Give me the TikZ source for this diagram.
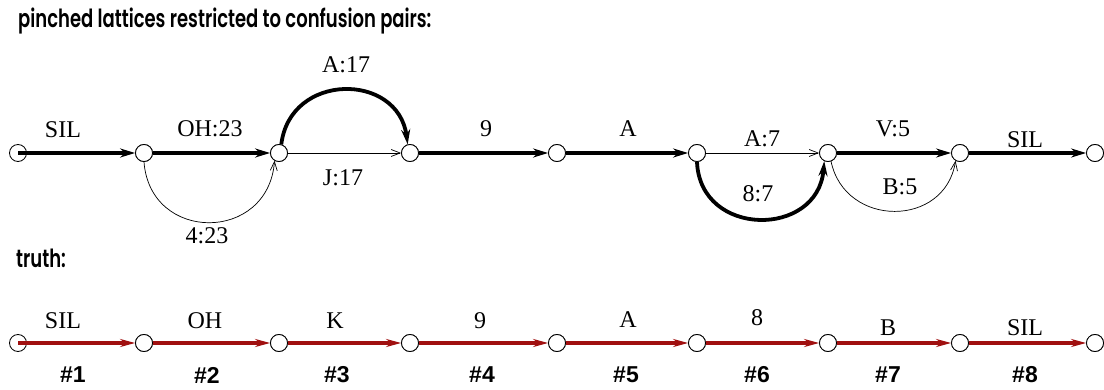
\documentclass[tikz,border=0pt]{standalone}
\usepackage{fontspec}
\setmainfont{Liberation Serif}
\newfontfamily\ptitle{Poppins}[BoldFont={Poppins SemiBold},FakeStretch=0.72]
\newfontfamily\hsans{Liberation Sans}
\usetikzlibrary{arrows.meta}
\definecolor{truthred}{RGB}{160,16,16}
\begin{document}
\begin{tikzpicture}[x=1pt,y=-1pt,
  st/.style={circle,draw,line width=0.8pt,minimum size=17pt,inner sep=0pt},
  stfill/.style={st,fill=white},
  thickedge/.style={line width=3.8pt,-{Stealth[length=15pt,width=9pt,inset=5pt]}},
  thinedge/.style={line width=0.7pt,-{Straight Barb[length=9pt,width=7pt]}},
  rededge/.style={line width=3pt,truthred,-{Stealth[length=15pt,width=8pt,inset=5pt]}},
  lab/.style={font=\fontsize{24}{25}\selectfont,inner sep=0pt},
  hd/.style={font=\ptitle\bfseries\fontsize{25}{27}\selectfont,inner sep=0pt,anchor=base west},
  num/.style={font=\hsans\bfseries\fontsize{23}{25}\selectfont,inner sep=0pt}]
\useasboundingbox (0,0) rectangle (1104,390);
\node[hd] (title) at (18,28) {pinched lattices restricted to confusion pairs:};
\node[hd] (truth) at (16,268) {truth:};
% top lattice
\node[st] (a1) at (18,153) {};
\foreach \n/\x in {2/144,3/279,4/410,5/557,6/697,7/828,8/960,9/1095}
  \node[stfill] (a\n) at (\x,153) {};
\draw[thickedge] (a1.center) -- (a2);
\draw[thickedge] (a2) -- (a3);
\draw[thickedge] (a3.75) .. controls (290,72) and (398,72) .. (a4.105);
\draw[thinedge] (a3) -- (a4);
\draw[thinedge] (a2.270) .. controls (150,243) and (268,243) .. (a3.240);
\draw[thickedge] (a4) -- (a5);
\draw[thickedge] (a5) -- (a6);
\draw[thinedge] (a6) -- (a7);
\draw[thickedge] (a6.270) .. controls (700,238) and (818,238) .. (a7.245);
\draw[thickedge] (a7) -- (a8);
\draw[thinedge] (a7.290) .. controls (845,228) and (945,228) .. (a8.240);
\draw[thickedge] (a8) -- (a9);
\foreach \n in {2,...,9} \node[stfill] at (a\n) {};
\node[lab] (l1) at (63,130) {SIL};
\node[lab] (l2) at (210,129) {OH:23};
\node[lab] (l3) at (346,65) {A:17};
\node[lab] (l4) at (343,178) {J:17};
\node[lab] (l5) at (207,236) {4:23};
\node[lab] (l6) at (486,129) {9};
\node[lab] (l7) at (628,129) {A};
\node[lab] (l8) at (762,139) {A:7};
\node[lab] (l9) at (758,194) {8:7};
\node[lab] (l10) at (893,129) {V:5};
\node[lab] (l11) at (1025,140) {SIL};
\node[lab] (l12) at (900,187) {B:5};
% truth
\node[st] (b1) at (18,343) {};
\foreach \n/\x in {2/144,3/279,4/410,5/557,6/697,7/828,8/960,9/1095}
  \node[stfill] (b\n) at (\x,343) {};
\draw[rededge] (b1.center) -- (b2);
\foreach \a/\b in {2/3,3/4,4/5,5/6,6/7,7/8,8/9}
  \draw[rededge] (b\a) -- (b\b);
\foreach \n in {2,...,9} \node[stfill] at (b\n) {};
\foreach \t/\x/\y [count=\i] in {SIL/63/321,OH/205/321,K/335/321,9/480/321,A/628/320,8/757/318,B/888/328,SIL/1025/328}
  \node[lab] (t\i) at (\x,\y) {\t};
\foreach \x [count=\i] in {73,207,337,482,626,757,888,1025}
  \node[num] (n\i) at (\x,375) {\#\i};
\end{tikzpicture}
\end{document}
